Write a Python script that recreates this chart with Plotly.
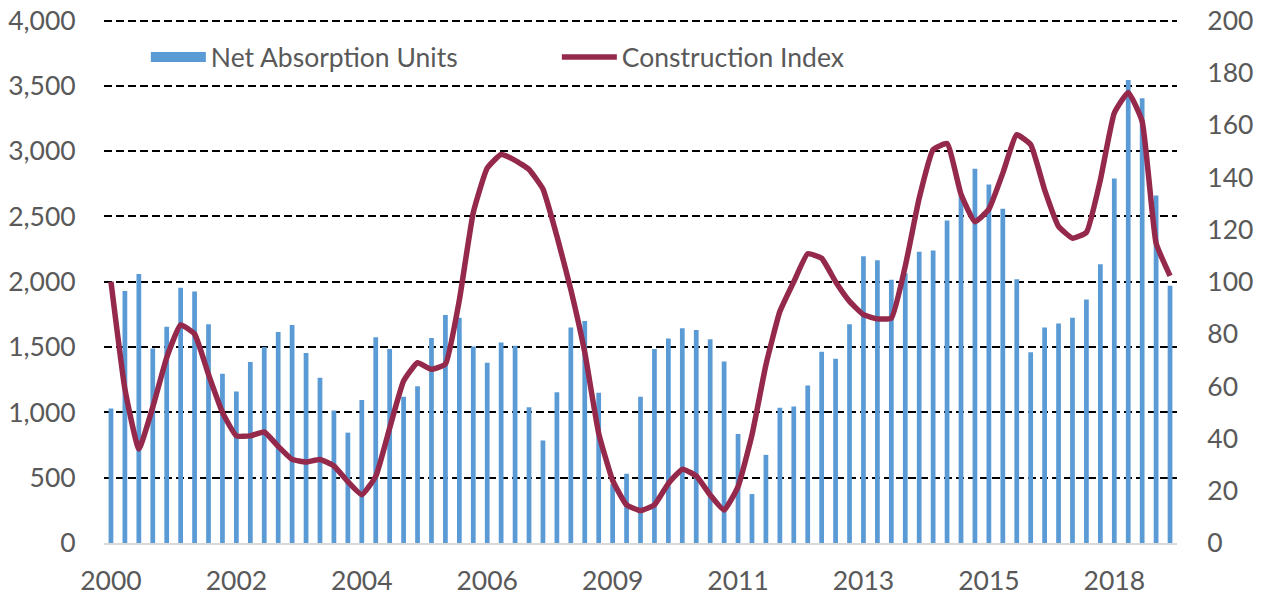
import plotly.graph_objects as go

quarters = [f"{2000 + i // 4}Q{i % 4 + 1}" for i in range(77)]

net_absorption_units = [
    1030, 1930, 2060, 1490, 1655, 1955, 1925, 1675, 1295, 1160,
    1385, 1500, 1615, 1670, 1455, 1265, 1015, 845, 1095, 1575,
    1485, 1120, 1200, 1570, 1745, 1725, 1505, 1380, 1535, 1510,
    1040, 785, 1155, 1650, 1700, 1150, 450, 530, 1120, 1485,
    1565, 1645, 1630, 1560, 1390, 835, 375, 675, 1035, 1045,
    1205, 1465, 1410, 1675, 2195, 2165, 2015, 2065, 2230, 2240,
    2470, 2655, 2865, 2745, 2560, 2020, 1460, 1650, 1680, 1725,
    1865, 2135, 2790, 3545, 3405, 2660, 1970,
]

construction_index = [
    100, 59, 36, 52, 71, 83.5, 80, 64.5, 50, 41,
    41, 42.5, 37, 32, 31, 32, 29.5, 23.5, 18.5, 25.5,
    44, 62, 69, 66.5, 68.5, 93, 126.5, 143.5, 148.7, 146.5,
    143, 135.5, 117.5, 97, 73, 42, 24, 14.6, 12.4, 14.6,
    22.8, 28.2, 25.7, 18.4, 12.6, 21.6, 41.4, 68.2, 88.6, 100,
    110.7, 109, 100, 92.5, 87.4, 85.8, 86.1, 106, 132, 150.6,
    152.9, 133.5, 123, 127.8, 141.6, 156.3, 152.5, 135.2, 121.2, 116.7,
    118.9, 139, 164.6, 172.5, 161.4, 114.8, 102.3,
]

left_ticks = [0, 500, 1000, 1500, 2000, 2500, 3000, 3500, 4000]
right_ticks = [0, 20, 40, 60, 80, 100, 120, 140, 160, 180, 200]
tick_quarters = quarters[::9]
tick_labels = [q[:4] for q in tick_quarters]

FONT = "Lato"
GREY = "#595959"
BLUE = "#5B9BD5"
FS = 26.5

# small headroom so the 4,000 gridline is not dropped at the plot edge
HEAD = 1.003
PX_PER_UNIT = 522 / 4000
extra_px = 4000 * (HEAD - 1) * PX_PER_UNIT

fig = go.Figure()
fig.add_trace(go.Scatter(
    x=[None], y=[None], name="Net Absorption Units", legendgroup="abs",
    mode="lines", line=dict(color=BLUE, width=17), hoverinfo="skip",
))
fig.add_trace(go.Bar(
    x=quarters, y=net_absorption_units, name="Net Absorption Units",
    legendgroup="abs", showlegend=False,
    marker=dict(color=BLUE, line=dict(width=0)), width=0.34,
))
fig.add_trace(go.Scatter(
    x=quarters, y=construction_index, name="Construction Index", yaxis="y2",
    mode="lines", line=dict(color="#95294B", width=5.5, shape="spline", smoothing=0.4),
))

fig.update_layout(
    width=1262, height=595,
    margin=dict(l=104, r=85, t=21 - extra_px, b=52, autoexpand=False),
    paper_bgcolor="white", plot_bgcolor="white",
    font=dict(family=FONT, size=FS, color=GREY),
    showlegend=True,
    legend=dict(orientation="h", x=0.039, y=0.927, xanchor="left", yanchor="middle",
                entrywidth=341, itemwidth=55,
                font=dict(family=FONT, size=FS, color=GREY),
                bgcolor="rgba(0,0,0,0)"),
    xaxis=dict(
        type="category", range=[-0.5, 76.5], automargin=False,
        tickmode="array", tickvals=tick_quarters, ticktext=tick_labels,
        showgrid=False, showline=True, linecolor="#D9D9D9", linewidth=2,
        ticks="outside", ticklen=13, tickcolor="rgba(0,0,0,0)",
        tickfont=dict(family=FONT, size=FS, color=GREY),
        ticklabeloverflow="allow",
    ),
    yaxis=dict(
        range=[0, 4000 * HEAD], tickvals=left_ticks,
        tickformat=",", automargin=False, ticklabeloverflow="allow",
        showgrid=True, gridcolor="black", gridwidth=1.6, griddash="8px,4px",
        zeroline=False, showline=False,
        ticks="outside", ticklen=22, tickcolor="rgba(0,0,0,0)",
        tickfont=dict(family=FONT, size=FS, color=GREY),
    ),
    yaxis2=dict(
        range=[0, 200 * HEAD], tickvals=right_ticks, overlaying="y", side="right",
        automargin=False, ticklabeloverflow="allow",
        showgrid=False, zeroline=False, showline=False,
        ticks="outside", ticklen=24, tickcolor="rgba(0,0,0,0)",
        tickfont=dict(family=FONT, size=FS, color=GREY),
    ),
)

# remove the browser's default 8px body margin so the figure fills the window
fig.write_html(
    "out.html",
    config={"displayModeBar": False},
    post_script="document.body.style.margin='0';document.body.style.overflow='hidden';",
)
